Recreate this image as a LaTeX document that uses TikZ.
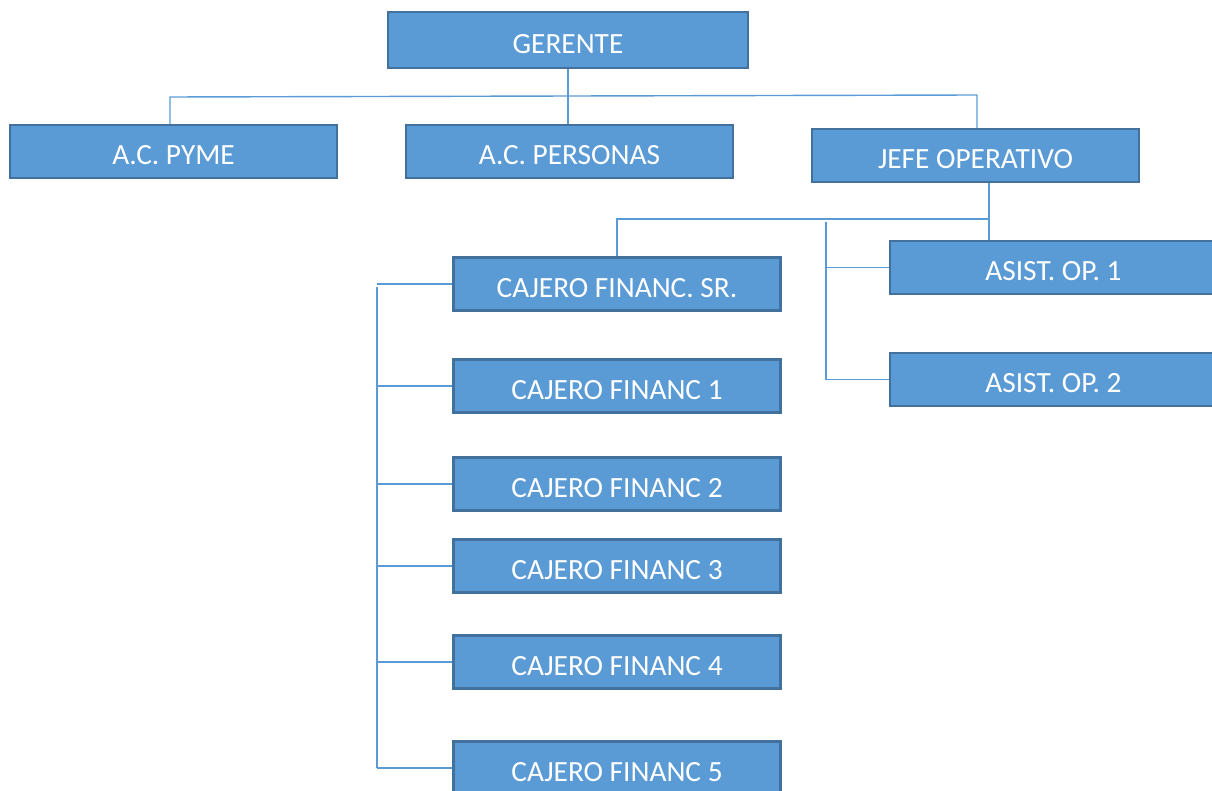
\documentclass[tikz,border=0pt]{standalone}
\usepackage{fontspec}
\setmainfont{Carlito}
\definecolor{cajaazul}{HTML}{5B9BD5}
\definecolor{bordeazul}{HTML}{41719C}
\begin{document}
\begin{tikzpicture}[x=0.02cm,y=-0.02cm,
    cargo/.style={draw=bordeazul,line width=1.2pt,fill=cajaazul,text=white,
        minimum width=6.54cm,minimum height=1.06cm,inner sep=0pt,
        text height=15pt,text depth=0pt,
        font=\fontsize{16.7}{20}\selectfont},
    enlace/.style={draw=cajaazul,line width=0.8pt}]
\useasboundingbox (0,0) rectangle (1212,790);
    % nivel 1 begin
\node[cargo,minimum width=7.2cm,minimum height=1.12cm] (gerente) at (568,40) {GERENTE};
\node[cargo] (pyme) at (173.5,151.5) {A.C. PYME};
\node[cargo] (personas) at (569.5,151.5) {A.C. PERSONAS};
\node[cargo] (jefe) at (975.5,155.5) {JEFE OPERATIVO};
\coordinate (t1) at (170,97);
\coordinate (t2) at (977,95);
\draw[enlace] (gerente.south) -- (gerente.south |- personas.north);
\draw[enlace] (t1 |- pyme.north) -- (t1) -- (t2) -- (t2 |- jefe.north);
% nivel 1 end
\node[cargo] (asist1) at (1053.5,267.5) {ASIST. OP. 1};
\node[cargo] (asist2) at (1053.5,379.5) {ASIST. OP. 2};
\node[cargo] (sr) at (617,284) {CAJERO FINANC. SR.};
\coordinate (j1) at (989,219);
\coordinate (j0) at (617,219);
\coordinate (a1) at (826,222);
\draw[enlace] (j1 |- jefe.south) -- (j1 |- asist1.north);
\draw[enlace] (j1) -- (j0) -- (sr.north);
\draw[enlace] (a1) -- (a1 |- asist2.west) -- (asist2.west);
\draw[enlace] (a1 |- asist1.west) -- (asist1.west);
% cajeros begin
\node[cargo] (cf1) at (617,386) {CAJERO FINANC 1};
\node[cargo] (cf2) at (617,484) {CAJERO FINANC 2};
\node[cargo] (cf3) at (617,566) {CAJERO FINANC 3};
\node[cargo] (cf4) at (617,662) {CAJERO FINANC 4};
\node[cargo] (cf5) at (617,768) {CAJERO FINANC 5};
\coordinate (c0) at (377,287);
\coordinate (c5) at (377,768);
\draw[enlace] (c0) -- (c5);
\foreach \n in {sr,cf1,cf2,cf3,cf4,cf5}
    \draw[enlace] (c0 |- \n.west) -- (\n.west);
% cajeros end
\end{tikzpicture}
\end{document}
